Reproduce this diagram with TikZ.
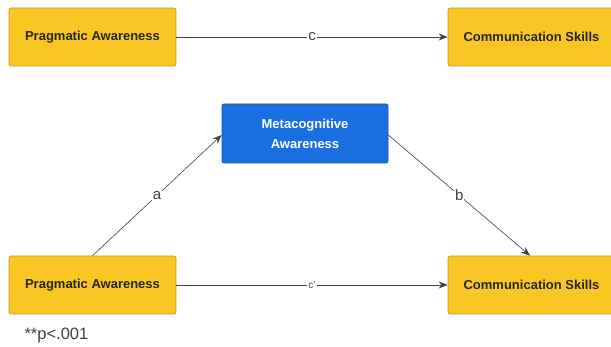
\documentclass[tikz,border=0pt]{standalone}
\usepackage{fontspec}
\setmainfont{Liberation Sans}
\usetikzlibrary{calc}
\usetikzlibrary{arrows.meta}

\definecolor{boxyellow}{HTML}{F9C624}
\definecolor{boxedge}{HTML}{B99A3A}
\definecolor{boxblue}{HTML}{1A6FE0}
\definecolor{lineinkgray}{HTML}{3B424C}

\tikzset{
  varbox/.style={draw=boxedge, fill=boxyellow, rounded corners=2pt, line width=0.7pt,
    inner sep=0pt, text=black!85, font=\bfseries\fontsize{13}{20}\selectfont, align=center},
  medbox/.style={varbox, draw=boxblue!80!black, fill=boxblue, text=white},
  pathline/.style={draw=lineinkgray, line width=0.6pt, -{Stealth[length=9pt,width=7pt]}},
  pathlab/.style={fill=white, inner sep=1pt, text=lineinkgray, font=\fontsize{15}{17}\selectfont}
}

\begin{document}
\begin{tikzpicture}[x=1pt,y=-1pt]
\useasboundingbox (0,0) rectangle (611,347);
\def\w{167pt}
\def\h{58pt}
% top: total effect
\node[varbox, minimum width=\w, minimum height=\h] (pa1) at (92.5, 37) {Pragmatic Awareness};
\node[varbox, minimum width=\w, minimum height=\h] (cs1) at (531.5, 37) {Communication Skills};
% bottom: mediation model
\node[medbox, minimum width=166pt, minimum height=59pt] (ma) at (305, 133.5) {Metacognitive\\Awareness};
\node[varbox, minimum width=\w, minimum height=\h] (pa2) at (92.5, 285) {Pragmatic Awareness};
\node[varbox, minimum width=\w, minimum height=\h] (cs2) at (531.5, 285) {Communication Skills};

\draw[pathline] (pa1) -- node[pathlab] {c} (cs1);
\draw[pathline] (pa2.north) -- node[pathlab] {a} ($(ma.west)+(0,1.5)$);
\draw[pathline] ($(ma.east)+(0,1.5)$) -- node[pathlab] {b} ($(cs2.north)+(-1.5,0)$);
\draw[pathline] (pa2) -- node[pathlab, font=\fontsize{10}{12}\selectfont] {c'} (cs2);

\node[anchor=west, font=\fontsize{16.5}{18}\selectfont, text=black!75] (note) at (21, 335) {**p<.001};
\end{tikzpicture}
\end{document}
